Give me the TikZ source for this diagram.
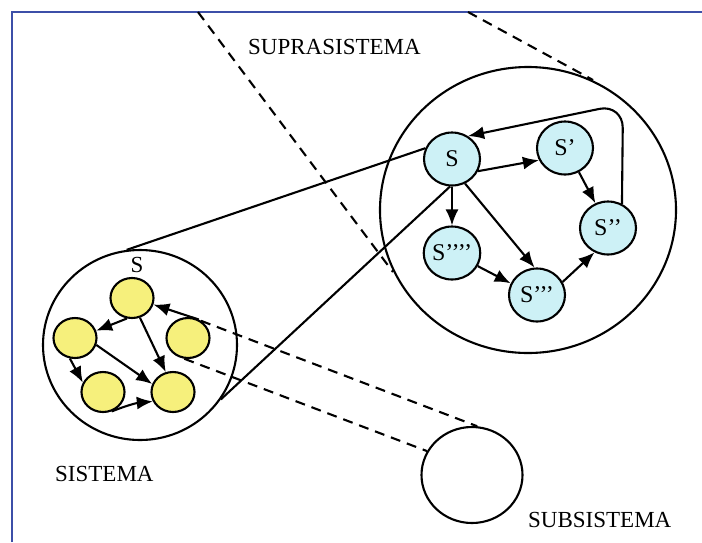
\documentclass[tikz,border=0pt]{standalone}
\usepackage{fontspec}
\setmainfont{Liberation Serif}
\usetikzlibrary{arrows.meta,shapes.geometric}

\definecolor{framecol}{HTML}{3C4FA8}
\definecolor{cyanfill}{HTML}{CDF1F6}
\definecolor{yellowfill}{HTML}{F6F07C}

\tikzset{
  lw/.style={line width=2.1pt},
  ring/.style={ellipse, draw, lw, inner sep=0pt},
  cnode/.style={ellipse, draw, lw, fill=cyanfill, inner sep=0pt,
    minimum width=56pt, minimum height=53pt, font=\fontsize{24}{24}\selectfont},
  ynode/.style={ellipse, draw, lw, fill=yellowfill, inner sep=0pt,
    minimum width=43pt, minimum height=40pt},
  arr/.style={lw, -{Latex[length=16pt,width=13pt]}},
  link/.style={lw},
  dashlink/.style={lw, dash pattern=on 10pt off 7pt},
  lbl/.style={anchor=west, inner sep=0pt, font=\fontsize{23}{23}\selectfont}
}

\begin{document}
\begin{tikzpicture}[x=1pt, y=-1pt]
  \useasboundingbox (0,0) rectangle (702,542);
  \fill[white] (0,0) rectangle (702,542);

  % page frame (top and left edges)
  \draw[framecol, line width=1.6pt] (12,542) -- (12,12) -- (702,12);

  % labels
  \node[lbl] (tsupra) at (248,47) {SUPRASISTEMA};
  \node[lbl] (tsis) at (55,474) {SISTEMA};
  \node[lbl] (tsub) at (528,520) {SUBSISTEMA};

  % suprasystem ring with its states
  \node[ring, minimum width=296pt, minimum height=286pt] (supra) at (528,210) {};
  \node[cnode] (S0) at (452,159) {S};
  \node[cnode] (S1) at (565,148) {S’};
  \node[cnode] (S2) at (608,228) {S’’};
  \node[cnode] (S3) at (537,295) {S’’’};
  \node[cnode] (S4) at (452,253) {S’’’’};

  \draw[arr] (S0.-25) -- (S1.205);
  \draw[arr] (S1.-60) -- (S2.117);
  \draw[arr] (S0.south) -- (S4.north);
  \draw[arr] (S0.-62) -- (S3.95);
  \draw[arr] (S4.-27) -- (S3.156);
  \draw[arr] (S3.27) -- (S2.241);
  \draw[arr, rounded corners=24pt] (S2.60) -- (623,104) -- (S0.55);

  % system ring with its components
  \node[ring, minimum width=194pt, minimum height=190pt] (sys) at (140,345) {};
  \node[inner sep=0pt, font=\fontsize{23}{23}\selectfont] (tS) at (137,265) {S};
  \node[ynode] (Y1) at (132,298) {};
  \node[ynode] (Y2) at (75,338) {};
  \node[ynode] (Y3) at (188,338) {};
  \node[ynode] (Y4) at (103,392) {};
  \node[ynode] (Y5) at (173,392) {};

  \draw[arr] (Y1.256) -- (Y2.19);
  \draw[arr] (Y1.-68) -- (Y5.110);
  \draw[arr] (Y2.-104) -- (Y4.155);
  \draw[arr] (Y2.-18) -- (Y5.159);
  \draw[arr] (Y4.-66) to[bend left=8] (Y5.205);
  \draw[arr] (Y3.60) -- (Y1.-17);

  % subsystem ring
  \node[ring, minimum width=101pt, minimum height=96pt] (sub) at (472,475) {};

  % system connected to its state in the suprasystem
  \draw[link] (sys.98) -- (S0.158);
  \draw[link] (sys.-34) -- (S0.-94);

  % projection lines
  \coordinate (p1) at (198,12);
  \coordinate (p1e) at (393,272);
  \coordinate (p2) at (468,12);
  \coordinate (p2e) at (593,80);
  \draw[dashlink] (p1) -- (p1e);
  \draw[dashlink] (p2) -- (p2e);
  \draw[dashlink] (Y3.53) -- (sub.84);
  \draw[dashlink] (Y3.-100) -- (sub.152);
\end{tikzpicture}
\end{document}
